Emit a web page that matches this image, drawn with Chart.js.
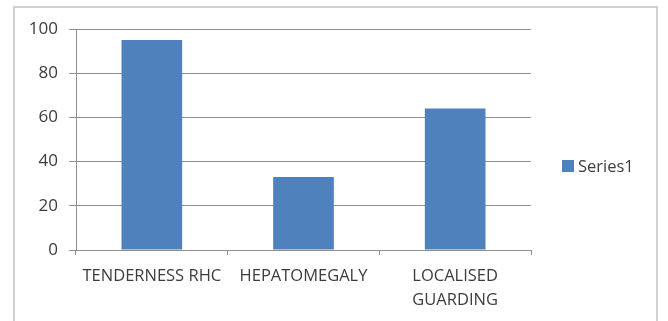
<!DOCTYPE html>
<html>
<head>
<meta charset="utf-8">
<script src="https://cdn.jsdelivr.net/npm/chart.js@4"></script>
<style>
  html, body { margin: 0; padding: 0; background: #ffffff; }
  #wrap { width: 668px; height: 321px; }
</style>
</head>
<body>
<div id="wrap"><canvas id="c" width="668" height="321"></canvas></div>
<script>
// Clinical findings and their counts
const categories = ['TENDERNESS RHC', 'HEPATOMEGALY', ['LOCALISED', 'GUARDING']];
const series1 = [95, 33, 64];
const seriesName = 'Series1';
const yTicks = [0, 20, 40, 60, 80, 100];

const FONT = "'Open Sans', 'DejaVu Sans', sans-serif";
const TEXT = '#3c3c3c';
const BAR = '#4F81BD';
const GRID = '#8f8f8f';

// Outer frame around the whole chart
const framePlugin = {
  id: 'frame',
  beforeDraw(chart) {
    const ctx = chart.ctx;
    ctx.save();
    ctx.fillStyle = '#ffffff';
    ctx.fillRect(0, 0, chart.width, chart.height);
    ctx.strokeStyle = '#c4c4c4';
    ctx.lineWidth = 1.5;
    ctx.beginPath();
    ctx.moveTo(14, chart.height + 2);
    ctx.lineTo(14, 7);
    ctx.lineTo(657, 7);
    ctx.lineTo(657, chart.height + 2);
    ctx.stroke();
    ctx.restore();
  }
};

// Legend on the right, vertically centred on the plot
const sideLegend = {
  id: 'sideLegend',
  afterDraw(chart) {
    const ctx = chart.ctx;
    const ds = chart.data.datasets[0];
    const area = chart.chartArea;
    const cy = (area.top + area.bottom) / 2 + 26.5;
    const x = area.right + 31;
    ctx.save();
    ctx.fillStyle = ds.backgroundColor;
    ctx.fillRect(x, cy - 6, 12, 12);
    ctx.fillStyle = TEXT;
    ctx.font = '16.5px ' + FONT;
    ctx.textBaseline = 'middle';
    ctx.textAlign = 'left';
    ctx.fillText(ds.label, x + 16, cy + 1);
    ctx.restore();
  }
};

new Chart(document.getElementById('c'), {
  type: 'bar',
  data: {
    labels: categories,
    datasets: [{
      label: seriesName,
      data: series1,
      backgroundColor: BAR,
      borderWidth: 0,
      categoryPercentage: 1.0,
      barPercentage: 0.4
    }]
  },
  options: {
    responsive: false,
    animation: false,
    events: [],
    layout: { padding: { left: 20, top: 29, right: 137, bottom: 0 } },
    plugins: {
      legend: { display: false },
      tooltip: { enabled: false }
    },
    scales: {
      x: {
        offset: true,
        grid: {
          offset: true,
          drawOnChartArea: false,
          drawTicks: true,
          tickLength: 5,
          color: GRID
        },
        border: { display: true, color: GRID, width: 1 },
        ticks: {
          color: TEXT,
          font: { family: FONT, size: 16.5, lineHeight: 1.45 },
          padding: 9,
          maxRotation: 0,
          autoSkip: false
        },
        afterFit(axis) { axis.height = 71; }
      },
      y: {
        min: 0,
        max: 100,
        afterBuildTicks(axis) { axis.ticks = yTicks.map(v => ({ value: v })); },
        grid: {
          color: GRID,
          lineWidth: 1,
          drawTicks: true,
          tickLength: 7
        },
        border: { display: true, color: GRID, width: 1 },
        ticks: {
          color: TEXT,
          font: { family: FONT, size: 17 },
          padding: 11
        },
        afterFit(axis) { axis.width = 56; }
      }
    }
  },
  plugins: [framePlugin, sideLegend]
});
</script>
</body>
</html>
